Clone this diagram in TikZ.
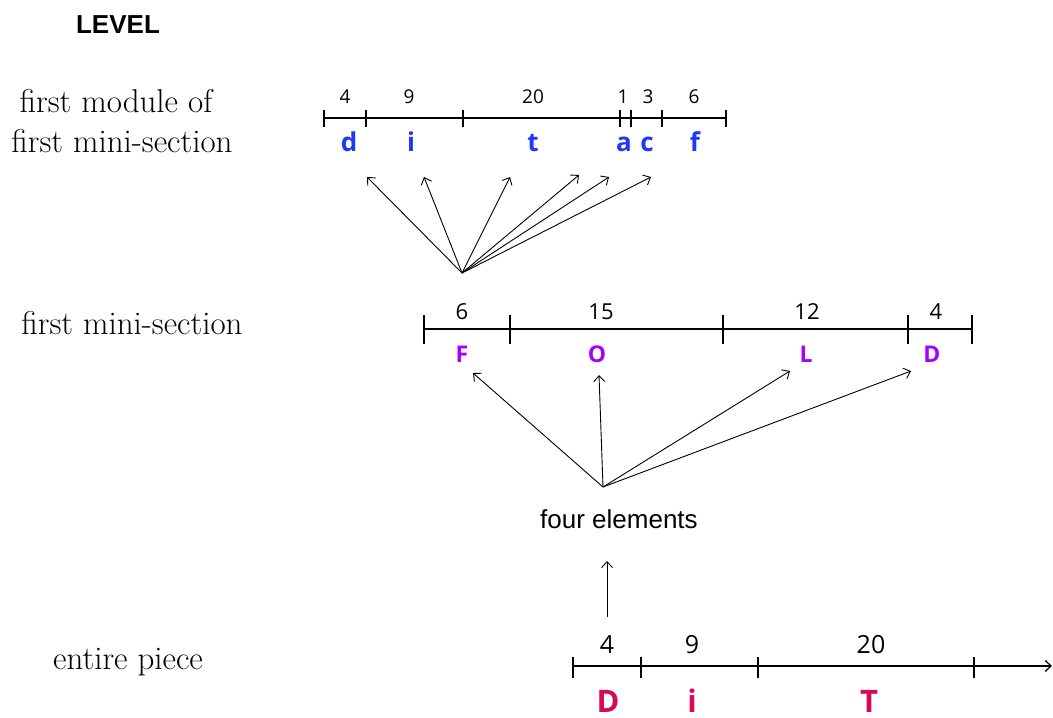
\documentclass[tikz,border=0pt]{standalone}
\usepackage{fontspec}
\usepackage{xcolor}
\usepackage{tikz}
\usetikzlibrary{arrows.meta}
\newfontfamily\arialfont{Liberation Sans}
\newfontfamily\humanfont{Open Sans}
\definecolor{lvlblue}{RGB}{30,55,250}
\definecolor{lvlpurple}{RGB}{165,0,250}
\definecolor{lvlred}{RGB}{215,10,90}

\begin{document}
\begin{tikzpicture}[x=1pt,y=-1pt,
      lvl/.style={font=\fontsize{33}{36}\selectfont,anchor=base,inner sep=0pt},
      num/.style={font=\humanfont\fontsize{#1}{#1}\selectfont,anchor=base,inner sep=0pt},
      let/.style={font=\humanfont\bfseries\fontsize{#1}{#1}\selectfont,anchor=base,inner sep=0pt},
      bar/.style={line width=1.2pt},
      tk/.style={line width=1.4pt},
      arr/.style={-{Straight Barb[length=6pt,width=11pt]},line width=0.9pt}]
    \useasboundingbox (0,0) rectangle (1053,718);
    % level names
    \node[font=\arialfont\bfseries\fontsize{26}{26}\selectfont,anchor=base,inner sep=0pt] (level) at (118,33) {LEVEL};
    \node[lvl] (modA) at (116,112) {first module of};
    \node[lvl] (modB) at (122,152) {first mini-section};
    \node[lvl] (mini) at (132,334) {first mini-section};
    \node[lvl] (piece) at (128,669) {entire piece};

    % top scale: first module
    \foreach \i/\x in {0/324,1/366,2/463,3/620,4/631,5/662,6/726} {
      \coordinate (m\i) at (\x,118);
      \draw[tk] (\x,110) -- (\x,127);
    }
    \draw[bar] (m0) -- (m6);
    \foreach \i/\x/\n in {0/345/4,1/409/9,2/533/20,3/623/1,4/648/3,5/694/6} {
      \node[num=19] (mn\i) at (\x,103) {\n};
    }
    \foreach \i/\x/\c in {0/349/d,1/411/i,2/533/t,3/624/a,4/647/c,5/695/f} {
      \node[let=26,text=lvlblue] (ml\i) at (\x,151) {\c};
    }
    \coordinate (hubA) at (462,273);
    \foreach \i/\x/\y in {0/367/177,1/424/177,2/510/177,3/579/175,4/609/177,5/651/177} {
      \coordinate (tA\i) at (\x,\y);
      \draw[arr] (hubA) -- (tA\i);
    }

    % middle scale: first mini-section
    \foreach \i/\x in {0/424,1/510,2/723,3/908,4/972} {
      \coordinate (s\i) at (\x,329);
      \draw[tk] (\x,315) -- (\x,344);
    }
    \draw[bar] (s0) -- (s4);
    \foreach \i/\x/\n in {0/462/6,1/601/15,2/807/12,3/936/4} {
      \node[num=22] (sn\i) at (\x,319) {\n};
    }
    \foreach \i/\x/\c in {0/462/F,1/597/O,2/806/L,3/932/D} {
      \node[let=23,text=lvlpurple] (sl\i) at (\x,362) {\c};
    }
    \coordinate (hubB) at (603,487);
    \foreach \i/\x/\y in {0/473/373,1/599/375,2/790/371,3/911/371} {
      \coordinate (tB\i) at (\x,\y);
      \draw[arr] (hubB) -- (tB\i);
    }
    \node[font=\arialfont\fontsize{26}{26}\selectfont,anchor=base,inner sep=0pt] (four) at (619,528) {four elements};

    % bottom scale: entire piece
    \foreach \i/\x in {0/573,1/641,2/758,3/974} {
      \coordinate (p\i) at (\x,666);
      \draw[tk] (\x,657) -- (\x,678);
    }
    \coordinate (pend) at (1052,666);
    \draw[bar,-{Straight Barb[length=6pt,width=11pt]}] (p0) -- (pend);
    \foreach \i/\x/\n in {0/607/4,1/692/9,2/871/20} {
      \node[num=25] (pn\i) at (\x,653) {\n};
    }
    \foreach \i/\x/\c in {0/608/D,1/692/i,2/869/T} {
      \node[let=31,text=lvlred] (pl\i) at (\x,712) {\c};
    }
    \coordinate (upfoot) at (607,617);
    \coordinate (uptip) at (607,561);
    \draw[arr] (upfoot) -- (uptip);
  \end{tikzpicture}
\end{document}
